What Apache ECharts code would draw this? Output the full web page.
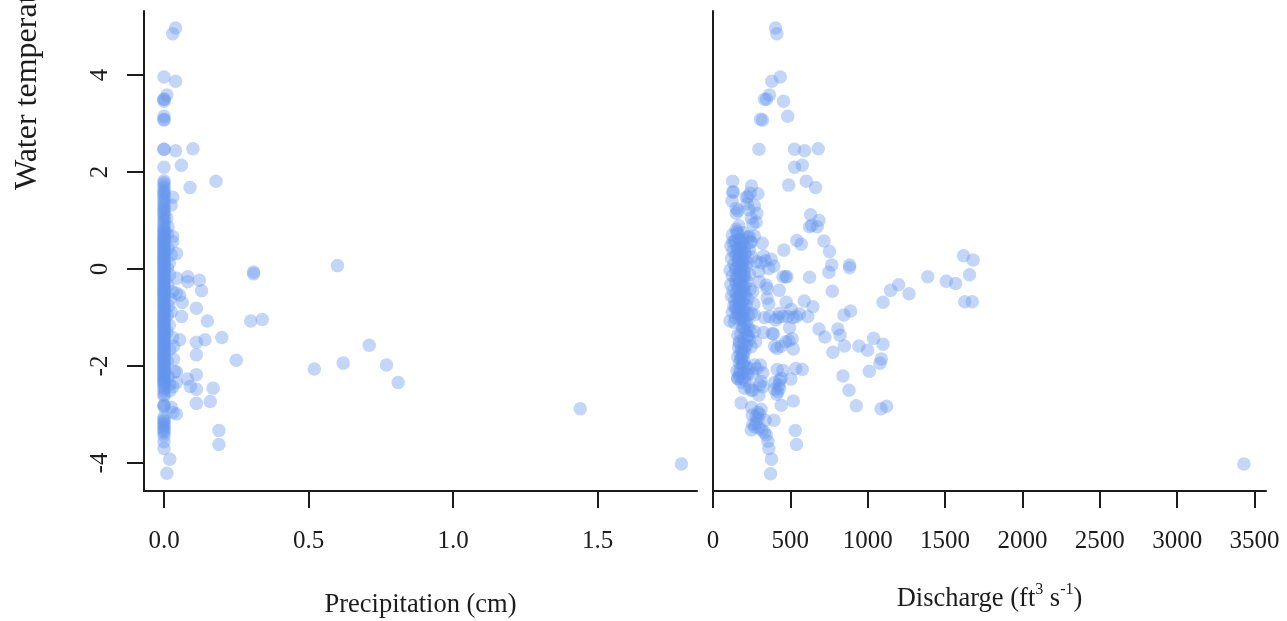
<!DOCTYPE html>
<html><head><meta charset="utf-8">
<style>html,body{margin:0;padding:0;background:#fff}#c{width:1287px;height:621px}</style>
<script src="https://cdn.jsdelivr.net/npm/echarts@6/dist/echarts.min.js"></script></head>
<body><div id="c"></div>
<script>
// Temperatures of the readings that sit at zero precipitation
const zeroPrecipTemps = [3.96,3.5,3.5,3.46,3.15,3.09,3.07,2.47,2.47,2.1,
 1.82,1.78,1.73,1.68,1.62,1.59,1.55,1.5,1.45,1.4,1.35,1.3,1.26,1.22,1.18,1.14,1.1,1.05,1.0,.95,.9,.85,.8,.75,.7,.66,.62,.58,.54,.5,.46,.42,.38,.34,.3,.26,.22,.18,.14,.1,.06,.02,
 -.02,-.06,-.1,-.14,-.18,-.22,-.26,-.3,-.34,-.38,-.42,-.46,-.5,-.54,-.58,-.62,-.66,-.7,-.74,-.78,-.82,-.86,-.9,-.94,-.98,-1.02,-1.06,-1.1,-1.14,-1.18,-1.22,-1.26,-1.3,-1.34,-1.38,-1.42,-1.46,-1.5,-1.54,-1.58,-1.62,-1.66,-1.7,-1.74,-1.78,-1.82,-1.86,-1.9,-1.94,-1.98,-2.02,-2.06,-2.1,-2.14,-2.18,-2.22,-2.26,-2.3,-2.34,-2.38,-2.42,-2.47,-2.52,-2.58,-2.62,
 -2.8,-2.82,-2.84,-3.05,-3.1,-3.14,-3.18,-3.22,-3.26,-3.3,-3.34,-3.38,-3.44,-3.56,-3.7];
const zeroPrecipDense = [.8,.72,.64,.56,.48,.4,.32,.24,.16,.08,0,-.08,-.16,-.24,-.32,-.4,-.48,-.56,-.64,-.72,-.8,-.88,-.96,-1.04,-1.12,-1.2,-1.28,-1.36,-1.44,-1.52,-1.6,-1.68,-1.76,-1.84,-1.92,-2.0,-2.08,-2.16,-2.24,-2.32];
// [precipitation cm, temperature] for readings with measurable rain
const rainyReadings = [[.04,4.97],[.03,4.85],[.04,3.87],[.01,3.59],[.1,2.48],[.04,2.44],[.06,2.14],[.18,1.81],[.09,1.68],[.03,1.48],[.025,1.32],
 [.014,.87],[.03,.67],[.03,.56],[.043,.32],[.025,.29],[.6,.07],[.31,-.06],[.31,-.1],[.044,-.19],[.082,-.16],[.082,-.26],[.122,-.23],[.13,-.45],
 [.03,-.47],[.054,-.54],[.043,-.5],[.063,-.69],[.112,-.81],[.061,-.98],[.15,-1.07],[.3,-1.07],[.34,-1.04],[.054,-1.46],[.03,-1.41],[.033,-1.59],
 [.112,-1.51],[.142,-1.46],[.2,-1.41],[.112,-1.77],[.033,-1.86],[.25,-1.88],[.62,-1.94],[.52,-2.06],[.037,-2.12],[.043,-2.12],[.112,-2.18],[.043,-2.34],
 [.081,-2.27],[.031,-2.43],[.091,-2.42],[.112,-2.48],[.17,-2.46],[.02,-2.51],[.025,-2.85],[.16,-2.73],[.112,-2.77],[.031,-2.96],[.043,-2.99],
 [.19,-3.33],[.19,-3.62],[.02,-3.92],[.01,-4.21],[.71,-1.57],[.77,-1.98],[.81,-2.34],[1.44,-2.88],[1.79,-4.02],
 [.01,1.05],[.012,.72],[.015,.42],[.018,.12],[.012,.02],[.02,-.12],[.014,-.33],[.022,-.62],[.016,-.76],[.025,-.88],[.012,-.95],[.018,-1.16],[.01,-1.3],[.02,-1.66],[.012,-1.9],[.015,-2.22],[.02,-2.38]];
// [discharge ft3/s, temperature]
const isolatedDischarge = [[404,4.97],[413,4.85],[435,3.96],[380,3.87],[365,3.59],[333,3.5],[346,3.5],[456,3.46],[483,3.15],[307,3.09],[320,3.07],
 [680,2.48],[297,2.47],[527,2.47],[592,2.44],[577,2.14],[527,2.1],[603,1.81],[489,1.73],[663,1.68],[3431,-4.02],
 [631,1.12],[685,1.0],[639,.9],[624,.87],[674,.87],[542,.59],[570,.51],[717,.58],[458,.39],[753,.36],[767,.083],[749,-.068],[883,.083],[883,.028],[624,-.17],[771,-.46],
 [1619,.275],[1681,.186],[1658,-.117],[1388,-.158],[1508,-.254],[1568,-.3],[1200,-.323],[1148,-.44],[1267,-.51],[1099,-.687],[1627,-.673],[1676,-.673],
 [889,-.866],[846,-.948],[807,-1.237],[821,-1.367],[685,-1.237],[723,-1.4],[849,-1.587],[943,-1.587],[999,-1.677],[1038,-1.43],[1099,-1.553],[1088,-1.855],[1079,-1.945],[1010,-2.11],[775,-1.718],[840,-2.206],[879,-2.5],[926,-2.82],[1086,-2.88],[1122,-2.83]];
const midDischarge = [[127,1.81],[127,1.59],[132,1.59],[122,1.41],[249,1.71],[240,1.56],[290,1.55],[215,1.48],[225,1.49],[221,1.34],[268,1.305],[150,1.25],[161,1.2],[150,1.15],[283,1.15],[232,1.22],
 [247,1.05],[279,.97],[258,.93],[167,.89],[154,.77],[161,.73],[146,.56],[171,.6],[128,.56],[193,.63],[236,.67],[268,.68],[247,.56],[318,.53],
 [327,.27],[376,.2],[283,.15],[311,.13],[339,.17],[361,.01],[393,.06],[296,-.05],[300,-.26],[344,-.33],[350,-.4],[350,-.6],[361,-.72],[264,-.72],[257,-.47],[247,-.91],[268,-.95],[139,-1.1],[193,-1.05],
 [452,-.158],[469,-.158],[478,-.158],[428,-.44],[590,-.66],[646,-.776],[613,-.98],[559,-.93],[505,-.83],[473,-.687],[538,-.98],[517,-1.0],[484,-.98],[452,-.98],[430,-.914],[419,-1.0],[404,-1.05],[366,-.98],[333,-1.0],
 [495,-1.21],[268,-1.29],[326,-1.31],[383,-1.33],[391,-1.34],[512,-1.44],[490,-1.48],[469,-1.5],[398,-1.59],[413,-1.64],[441,-1.59],[519,-1.65],[534,-2.05],[577,-2.07],[415,-2.07],[452,-2.09],[503,-2.27],[441,-2.25],
 [398,-2.34],[430,-2.3],[426,-2.39],[398,-2.48],[419,-2.53],[430,-2.46],[413,-2.58],[519,-2.72],[441,-2.81],
 [160,-1.36],[225,-1.38],[275,-1.5],[247,-1.6],[171,-1.53],[268,-1.98],[307,-1.98],[283,-2.05],[322,-2.14],[236,-2.05],[257,-2.16],[215,-2.16],[193,-2.25],[171,-2.15],[160,-2.25],[204,-2.46],[236,-2.43],[247,-2.5],[301,-2.39],[322,-2.43],[296,-2.6],[258,-2.5],[311,-2.32]];
const lowDischarge = [[182,-2.76],[249,-2.85],[311,-2.89],[290,-2.96],[301,-2.99],[254,-3.01],[279,-3.04],[290,-3.08],[394,-3.12],[337,-3.12],[279,-3.18],[258,-3.2],[247,-3.32],[269,-3.25],[297,-3.28],[316,-3.32],[333,-3.37],[344,-3.42],[355,-3.55],[361,-3.7],[378,-3.92],[372,-4.22],[532,-3.33],[540,-3.62]];
const columnDischarge = [[150,.82],[195,.75],[125,.7],[225,.66],[170,.62],[140,.58],[240,.55],[185,.52],[115,.48],[205,.45],[160,.42],[235,.4],[130,.37],[175,.34],[210,.31],[145,.28],[250,.25],[120,.22],[190,.19],[165,.16],[225,.13],[135,.1],[180,.07],[215,.04],[150,.01],[110,-.02],[200,-.05],[170,-.08],[235,-.11],[125,-.14],[155,-.17],[195,-.2],[145,-.23],[220,-.26],[175,-.29],[115,-.32],[205,-.35],[160,-.38],[240,-.41],[130,-.44],[185,-.47],[150,-.5],[210,-.53],[120,-.56],[170,-.59],[225,-.62],[140,-.65],[190,-.68],[165,-.71],[215,-.74],[135,-.77],[180,-.8],[150,-.83],[205,-.86],[125,-.89],[160,-.92],[230,-.95],[195,-.98],[145,-1.01],[175,-1.04],[110,-1.07],[215,-1.1],
 [175,.47],[160,.41],[190,.35],[155,.3],[170,.24],[200,.18],[165,.12],[185,.06],[145,0],[175,-.06],[195,-.12],[160,-.18],[180,-.24],[150,-.3],[190,-.36],[170,-.42],[200,-.48],[165,-.54],[155,-.6],[185,-.66],[175,-.72],[145,-.78],[195,-.84],[165,-.9],[180,-.96],
 [205,-1.14],[225,-1.18],[190,-1.22],[240,-1.26],[210,-1.3],[180,-1.34],[225,-1.38],[200,-1.42],[235,-1.46],[170,-1.5],[195,-1.54],[215,-1.58],[165,-1.62],[185,-1.66],[205,-1.7],[175,-1.74],[195,-1.78],[160,-1.82],[180,-1.86],[200,-1.9],[170,-1.94],[190,-1.98],[215,-2.02],[175,-2.06],[155,-2.1],[195,-2.14],[225,-2.18],[170,-2.22],[160,-2.26],[205,-2.3],[185,-2.34],
 [190,.55],[175,.44],[205,.33],[170,.22],[195,.1],[180,-.02],[205,-.14],[170,-.26],[190,-.38],[180,-.5],[200,-.62],[170,-.74],[190,-.86],[185,-1.0],[195,-1.2],[205,-1.6],[190,-1.72],[185,-1.84],[195,-1.96]];
const yTicks = [-4,-2,0,2,4];
const precipTicks = [0,.5,1,1.5];
const dischargeTicks = [0,500,1000,1500,2000,2500,3000,3500];

const FONT = '"Liberation Serif"';
const INK = '#1c1c1c';
const line = {show:true,onZero:false,lineStyle:{color:INK,width:2}};
const tick = (vals)=>({show:true,length:17,customValues:vals,lineStyle:{color:INK,width:2}});
const mark = {color:'rgba(100,149,237,0.48)',borderWidth:0};
const chart = echarts.init(document.getElementById('c'),null,{renderer:'canvas'});
chart.setOption({
 animation:false,
 grid:[{left:144,right:590,top:11,bottom:130,outerBoundsMode:'none'},{left:713,right:21,top:11,bottom:130,outerBoundsMode:'none'}],
 xAxis:[
  {gridIndex:0,type:'value',min:-0.0692,max:1.844,splitLine:{show:false},axisLine:line,axisTick:tick(precipTicks),
   axisLabel:{customValues:precipTicks,margin:38,fontFamily:FONT,fontSize:25,color:INK,formatter:v=>v.toFixed(1)},
   name:'Precipitation (cm)',nameLocation:'middle',nameGap:101,nameTextStyle:{fontFamily:FONT,fontSize:26.5,color:INK}},
  {gridIndex:1,type:'value',min:0,max:3574,splitLine:{show:false},axisLine:line,axisTick:tick(dischargeTicks),
   axisLabel:{customValues:dischargeTicks,margin:38,fontFamily:FONT,fontSize:25,color:INK,formatter:v=>String(v)},
   name:'{a|Discharge (ft}{s|3}{a| s}{s|-1}{a|)}',nameLocation:'middle',nameGap:91,
   nameTextStyle:{rich:{a:{fontFamily:FONT,fontSize:26.5,color:INK,lineHeight:34},s:{fontFamily:FONT,fontSize:16,color:INK,verticalAlign:'top',lineHeight:16}}}}
 ],
 yAxis:[
  {gridIndex:0,type:'value',min:-4.577,max:5.32,splitLine:{show:false},axisLine:line,axisTick:tick(yTicks),
   axisLabel:{customValues:yTicks,rotate:90,margin:31,fontFamily:FONT,fontSize:25,color:INK}},
  {gridIndex:1,type:'value',min:-4.577,max:5.32,splitLine:{show:false},axisLine:line,axisTick:{show:false},axisLabel:{show:false}}
 ],
 graphic:[{type:'text',x:28,y:190,rotation:Math.PI/2,style:{text:'Water temperature',fontFamily:FONT,fontSize:32,fill:INK,textAlign:'left',textVerticalAlign:'middle'}}],
 series:[
  {type:'scatter',xAxisIndex:0,yAxisIndex:0,symbolSize:13.5,itemStyle:mark,clip:false,silent:true,
   data:zeroPrecipTemps.concat(zeroPrecipDense).map(t=>[0,t]).concat(rainyReadings)},
  {type:'scatter',xAxisIndex:1,yAxisIndex:1,symbolSize:13.5,itemStyle:mark,clip:false,silent:true,
   data:[].concat(isolatedDischarge,midDischarge,lowDischarge,columnDischarge)}
 ]
});
</script></body></html>
